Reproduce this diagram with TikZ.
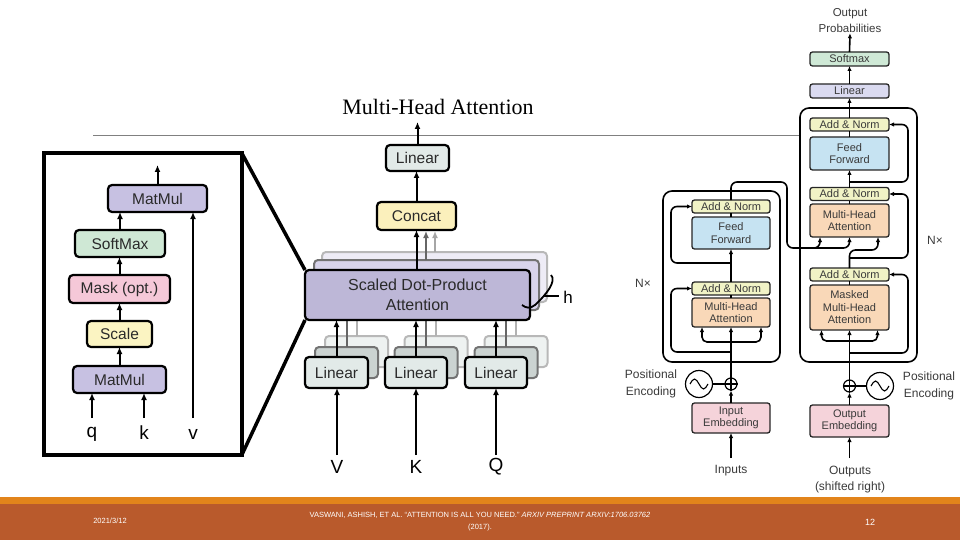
\documentclass[tikz,border=0pt]{standalone}
\usepackage{fontspec}
\setmainfont{Liberation Sans}
\newfontfamily\ttlfont{Liberation Serif}
\usetikzlibrary{arrows.meta,calc}
\definecolor{lav}{HTML}{C7C1E2}
\definecolor{softg}{HTML}{CFE8D5}
\definecolor{maskp}{HTML}{F5C8D8}
\definecolor{scaley}{HTML}{FBF4C2}
\definecolor{ling}{HTML}{E2EAE8}
\definecolor{concy}{HTML}{FBF0BC}
\definecolor{anorm}{HTML}{F1F3C6}
\definecolor{ffb}{HTML}{C6E3F2}
\definecolor{mhao}{HTML}{F9D8B8}
\definecolor{embp}{HTML}{F5D3DA}
\definecolor{dsm}{HTML}{CFE9D6}
\definecolor{dlin}{HTML}{DADAF0}
\definecolor{stripe}{HTML}{E2841B}
\definecolor{band}{HTML}{B95A2C}
\definecolor{txt}{HTML}{2A2A2A}
\definecolor{rtxt}{HTML}{3A3A3A}
\begin{document}
\begin{tikzpicture}[x=1pt,y=-1pt,
  bigbox/.style={draw=black,line width=2.2pt,rounded corners=4pt,inner sep=0pt,outer sep=0pt,text=txt,font=\fontsize{15.5}{17.5}\selectfont,align=center},
  shbox/.style={line width=2pt,rounded corners=4pt,inner sep=0pt,outer sep=0pt},
  smallbox/.style={draw=black!85,line width=1.3pt,rounded corners=2.5pt,inner sep=0pt,outer sep=0pt,text=rtxt,font=\fontsize{11}{12.5}\selectfont,align=center,minimum width=79pt},
  arr/.style={line width=2pt,-{Latex[length=7pt,width=6pt]}},
  rarr/.style={line width=1.6pt,-{Latex[length=5pt,width=4.5pt]},rounded corners=6pt},
  rline/.style={line width=1.6pt,rounded corners=6pt},
  lbl/.style={text=rtxt,font=\fontsize{12}{16.5}\selectfont,align=center,inner sep=0pt},
  qlbl/.style={text=black,font=\fontsize{19}{21}\selectfont,inner sep=0pt},
]
\useasboundingbox (0,0) rectangle (960,540);
% background rule
\draw[black!50,line width=1pt] (93,136) -- (800,136);

% ---------------- left: scaled dot-product attention ----------------
\node[draw=black,line width=4pt,minimum width=198pt,minimum height=301pt,inner sep=0pt,outer sep=0pt] (frame) at (143,304) {};
\node[bigbox,fill=lav,minimum width=99pt,minimum height=27pt] (mm2) at (157.5,198.5) {MatMul};
\node[bigbox,fill=softg,minimum width=90pt,minimum height=27pt] (sm) at (120,243.5) {SoftMax};
\node[bigbox,fill=maskp,minimum width=101pt,minimum height=28pt] (mask) at (119.5,289) {Mask (opt.)};
\node[bigbox,fill=scaley,minimum width=65pt,minimum height=26pt] (scale) at (119.5,334) {Scale};
\node[bigbox,fill=lav,minimum width=93pt,minimum height=27pt] (mm1) at (119.5,379.5) {MatMul};
\node[qlbl] (q) at (92,434) {q};
\node[qlbl] (k) at (144,433) {k};
\node[qlbl] (v) at (193,434) {v};
\coordinate (qs) at (92,418);
\coordinate (ks) at (144,418);
\coordinate (vs) at (193,418);
\coordinate (mmout) at (157.5,165);
\draw[arr] (qs) -- (qs |- mm1.south);
\draw[arr] (ks) -- (ks |- mm1.south);
\draw[arr] (vs) -- (vs |- mm2.south);
\draw[arr] (mm1.north) -- (scale.south);
\draw[arr] (scale.north) -- (mask.south);
\draw[arr] (mask.north) -- (mask.north |- sm.south);
\draw[arr] (sm.north) -- (sm.north |- mm2.south);
\draw[arr] (mm2.north) -- (mmout);

% ---------------- middle: multi-head attention ----------------
\node[font=\ttlfont\fontsize{22}{24}\selectfont,inner sep=0pt] (title) at (438,107) {Multi-Head Attention};
% far shadows
\node[shbox,fill=lav!30,draw=black!28,minimum width=225pt,minimum height=50pt] (sdpa2) at (434.5,277) {};
\foreach \x/\n in {336.5/V,416/K,496/Q}{
  \node[shbox,fill=ling!60,draw=black!28,minimum width=63pt,minimum height=31pt] (lin2\n) at (\x+20,351.5) {};
  \draw[black!30,line width=2pt] (\x+20,336) -- (\x+20,302);
}
\draw[black!35,line width=2pt,-{Latex[length=7pt,width=6pt]}] (435,252) -- (435,231);
% near shadows
\node[shbox,fill=lav!70,draw=black!55,minimum width=225pt,minimum height=50pt] (sdpa1) at (426.5,285) {};
\foreach \x/\n in {336.5/V,416/K,496/Q}{
  \node[shbox,fill=ling!90!black,draw=black!55,minimum width=63pt,minimum height=31pt] (lin1\n) at (\x+10,362.5) {};
  \draw[black!60,line width=2pt] (\x+10,347) -- (\x+10,310);
}
\draw[black!60,line width=2pt,-{Latex[length=7pt,width=6pt]}] (426,260) -- (426,231);
% front boxes
\node[bigbox,fill=lav!95!black,minimum width=225pt,minimum height=50pt,font=\fontsize{16}{20}\selectfont] (sdpa) at (417.5,295) {Scaled Dot-Product\\Attention};
\node[bigbox,fill=ling,minimum width=63pt,minimum height=31pt] (linV) at (336.5,372.5) {Linear};
\node[bigbox,fill=ling,minimum width=62pt,minimum height=31pt] (linK) at (416,372.5) {Linear};
\node[bigbox,fill=ling,minimum width=62pt,minimum height=31pt] (linQ) at (496,372.5) {Linear};
\node[bigbox,fill=concy,minimum width=79pt,minimum height=28pt] (concat) at (416.5,216) {Concat};
\node[bigbox,fill=ling,minimum width=63pt,minimum height=26pt] (lintop) at (417.5,158) {Linear};
\node[qlbl] (V) at (337,467) {V};
\node[qlbl] (K) at (416,467) {K};
\node[qlbl] (Q) at (496,467) {Q};
\coordinate (Vs) at (337,455);
\coordinate (Ks) at (416,455);
\coordinate (Qs) at (496,455);
\coordinate (mhout) at (417.5,122);
\draw[arr] (Vs) -- (Vs |- linV.south);
\draw[arr] (Ks) -- (Ks |- linK.south);
\draw[arr] (Qs) -- (Qs |- linQ.south);
\draw[arr] (linV.north) -- (linV.north |- sdpa.south);
\draw[arr] (linK.north) -- (linK.north |- sdpa.south);
\draw[arr] (linQ.north) -- (linQ.north |- sdpa.south);
\draw[arr] (416.5,270) -- (concat.south);
\draw[arr] (concat.north) -- (concat.north |- lintop.south);
\draw[arr] (lintop.north) -- (mhout);
% h bracket
\draw[line width=1.8pt] (551,275) .. controls (557,281) and (546,295) .. (535,305) .. controls (530,309) and (526,308) .. (522,305);
\draw[line width=1.2pt] (544,296) -- (559,296);
\node[qlbl,font=\fontsize{17}{19}\selectfont] (h) at (568,297) {h};
% zoom lines
\draw[line width=3.5pt] (frame.north east) -- (sdpa.north west);
\draw[line width=3.5pt] (frame.south east) -- (sdpa.south west);

% ---------------- right: transformer ----------------
\node[draw=black,line width=1.6pt,rounded corners=9pt,minimum width=117pt,minimum height=171pt,inner sep=0pt,outer sep=0pt] (encbox) at (721.5,276.5) {};
\node[draw=black,line width=1.6pt,rounded corners=9pt,minimum width=117pt,minimum height=254pt,inner sep=0pt,outer sep=0pt] (decbox) at (858.5,235) {};
% encoder
\node[smallbox,fill=anorm,minimum width=78pt,minimum height=13pt] (ean2) at (731,206.5) {Add \& Norm};
\node[smallbox,fill=ffb,minimum width=78pt,minimum height=32pt] (eff) at (731,233) {Feed\\Forward};
\node[smallbox,fill=anorm,minimum width=78pt,minimum height=13pt] (ean1) at (731,288.5) {Add \& Norm};
\node[smallbox,fill=mhao,minimum width=78pt,minimum height=29pt] (emha) at (731,312.5) {Multi-Head\\Attention};
\node[smallbox,fill=embp,minimum width=78pt,minimum height=30pt] (ein) at (731,418) {Input\\Embedding};
\node[circle,draw=black,line width=1.2pt,minimum size=12pt,inner sep=0pt] (eadd) at (731,384) {};
\draw[line width=1.2pt] (eadd.north) -- (eadd.south) (eadd.west) -- (eadd.east);
\node[circle,draw=black,line width=1.2pt,minimum size=27pt,inner sep=0pt] (epe) at (699,384) {};
\draw[line width=1.1pt] ($(epe.center)+(-9,0)$) sin ++(4.5,-5) cos ++(4.5,5) sin ++(4.5,5) cos ++(4.5,-5);
\node[lbl] (epel) at (651,384) {Positional\\Encoding};
\node[lbl] (inp) at (731,471) {Inputs};
\node[lbl] (enx) at (643,283) {N×};
\draw[rarr] (731,458) -- (ein.south);
\draw[rarr] (ein.north) -- (eadd.south);
\draw[rline] (epe.east) -- (eadd.west);
\draw[rarr] (eadd.north) -- (emha.south);
\draw[rarr,rounded corners=5pt] (731,342) -| ([xshift=-29pt]emha.south);
\draw[rarr,rounded corners=5pt] (731,342) -| ([xshift=30pt]emha.south);
\draw[rarr] (731,352) -| (671,288.5) -- (ean1.west);
\draw[rline] (emha.north) -- (ean1.south);
\draw[rarr] (ean1.north) -- (eff.south);
\draw[rarr] (731,263) -| (671,206.5) -- (ean2.west);
\draw[rline] (eff.north) -- (ean2.south);
% decoder
\node[lbl,font=\fontsize{11.5}{16}\selectfont] (oprob) at (850,21) {Output\\Probabilities};
\node[smallbox,fill=dsm,minimum height=14pt] (dsmx) at (849.5,59) {Softmax};
\node[smallbox,fill=dlin,minimum height=14pt] (dlinx) at (849.5,91) {Linear};
\node[smallbox,fill=anorm,minimum height=13pt] (dan3) at (849.5,124.5) {Add \& Norm};
\node[smallbox,fill=ffb,minimum height=33pt] (dff) at (849.5,153.5) {Feed\\Forward};
\node[smallbox,fill=anorm,minimum height=13pt] (dan2) at (849.5,194) {Add \& Norm};
\node[smallbox,fill=mhao,minimum height=33pt] (dmha) at (849.5,220.5) {Multi-Head\\Attention};
\node[smallbox,fill=anorm,minimum height=13pt] (dan1) at (849.5,274.5) {Add \& Norm};
\node[smallbox,fill=mhao,minimum height=45pt] (dmmha) at (849.5,307.5) {Masked\\Multi-Head\\Attention};
\node[smallbox,fill=embp,minimum height=32pt] (dout) at (849.5,421) {Output\\Embedding};
\node[circle,draw=black,line width=1.2pt,minimum size=12pt,inner sep=0pt] (dadd) at (849.5,386) {};
\draw[line width=1.2pt] (dadd.north) -- (dadd.south) (dadd.west) -- (dadd.east);
\node[circle,draw=black,line width=1.2pt,minimum size=27pt,inner sep=0pt] (dpe) at (880,386) {};
\draw[line width=1.1pt] ($(dpe.center)+(-9,0)$) sin ++(4.5,-5) cos ++(4.5,5) sin ++(4.5,5) cos ++(4.5,-5);
\node[lbl] (dpel) at (929,386) {Positional\\Encoding};
\node[lbl,font=\fontsize{12}{16}\selectfont] (outs) at (850,480) {Outputs\\(shifted right)};
\node[lbl] (dnx) at (935,240) {N×};
\draw[rarr] (849.5,458) -- (dout.south);
\draw[rarr] (dout.north) -- (dadd.south);
\draw[rline] (dpe.west) -- (dadd.east);
\draw[rarr] (dadd.north) -- (dmmha.south);
\draw[rarr,rounded corners=5pt] (849.5,341) -| ([xshift=-28pt]dmmha.south);
\draw[rarr,rounded corners=5pt] (849.5,341) -| ([xshift=28pt]dmmha.south);
\draw[rarr] (849.5,353) -| (908,274.5) -- (dan1.east);
\draw[rline] (dmmha.north) -- (dan1.south);
\draw[rarr] (dan1.north) -- (849.5,250) -| ([xshift=28.5pt]dmha.south);
\draw[rarr] (849.5,258) -| (908,194) -- (dan2.east);
\draw[rline] (dmha.north) -- (dan2.south);
\draw[rarr] (dan2.north) -- (dff.south);
\draw[rarr] (849.5,182) -| (908,124.5) -- (dan3.east);
\draw[rline] (dff.north) -- (dan3.south);
\draw[rarr] (dan3.north) -- (dlinx.south);
\draw[rarr] (dlinx.north) -- (dsmx.south);
\draw[rarr] (dsmx.north) -- (oprob.south);
% encoder output to decoder cross attention
\draw[rarr] (ean2.north) |- (787,182) -- (787,248) -| ([xshift=-29.5pt]dmha.south);
\draw[rarr] (812,248) -| (dmha.south);

% ---------------- footer ----------------
\fill[stripe] (0,497) rectangle (960,504);
\fill[band] (0,504) rectangle (960,540);
\node[text=white,font=\fontsize{7.5}{9}\selectfont,inner sep=0pt] (date) at (110,521) {2021/3/12};
\node[text=white,font=\fontsize{7.5}{12}\selectfont,align=center,inner sep=0pt] (cite) at (480,522) {VASWANI, ASHISH, ET AL. “ATTENTION IS ALL YOU NEED.” \textit{ARXIV PREPRINT ARXIV:1706.03762}\\(2017).};
\node[text=white,font=\fontsize{9}{10}\selectfont,inner sep=0pt] (pg) at (870,522) {12};
\end{tikzpicture}
\end{document}
